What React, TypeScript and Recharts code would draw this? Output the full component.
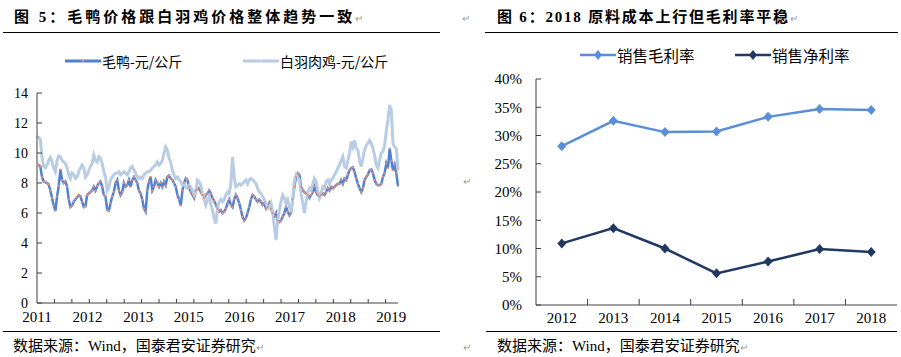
import { LineChart, Line, XAxis, YAxis } from "recharts";

// 毛鸭 / 白羽肉鸡 weekly prices (元/公斤), 2011 - early 2019
const duckPrice = [
  9.2, 9.2, 9.1, 8.4, 8.1, 8.05, 8.0, 7.9, 7.5, 7.0,
  6.5, 6.15, 7.1, 7.8, 8.9, 8.2, 8.0, 8.1, 7.75, 6.9,
  6.4, 6.5, 6.75, 6.9, 7.05, 7.2, 7.1, 6.75, 6.4, 6.45,
  7.2, 7.3, 7.4, 7.5, 7.75, 7.5, 7.8, 8.0, 8.1, 7.75,
  7.2, 7.1, 6.2, 6.15, 6.65, 7.1, 7.4, 8.0, 8.2, 7.5,
  7.2, 7.4, 8.0, 7.75, 7.85, 8.2, 7.75, 8.2, 8.4, 8.2,
  8.0, 7.5, 7.3, 6.9, 6.3, 6.1, 7.5, 8.1, 8.4, 7.5,
  7.75, 8.2, 8.0, 7.75, 8.0, 7.75, 8.1, 7.85, 8.4, 8.5,
  8.3, 8.2, 8.0, 7.75, 7.2, 6.9, 6.5, 7.5, 8.0, 8.3,
  8.2, 7.75, 7.4, 7.2, 7.0, 7.5, 7.6, 7.65, 7.4, 7.2,
  7.0, 7.2, 7.3, 7.5, 7.3, 7.0, 6.8, 6.55, 6.3, 6.1,
  6.2, 6.0, 6.1, 6.3, 6.65, 6.9, 6.55, 6.4, 6.9, 7.2,
  7.0, 6.65, 6.2, 5.75, 5.5, 5.65, 6.0, 6.4, 6.9, 7.2,
  7.1, 6.9, 6.75, 6.9, 6.75, 6.55, 6.65, 6.3, 6.4, 6.65,
  6.3, 6.0, 5.75, 6.0, 5.5, 5.4, 5.5, 5.75, 6.0, 6.4,
  6.1, 5.85, 6.0, 6.9, 7.75, 8.4, 8.65, 8.55, 7.75, 7.5,
  7.4, 7.3, 7.2, 7.0, 7.2, 7.4, 7.75, 7.4, 7.2, 7.1,
  7.2, 7.3, 7.2, 7.4, 7.65, 7.5, 7.75, 7.65, 7.75, 7.85,
  7.95, 7.95, 8.2, 7.95, 8.3, 8.2, 8.55, 8.85, 9.0, 9.05,
  8.75, 8.3, 7.95, 7.65, 7.4, 7.65, 8.2, 8.4, 8.55, 8.85,
  8.9, 8.65, 8.2, 7.95, 7.85, 7.85, 7.95, 8.4, 8.65, 9.3,
  9.0, 10.3, 9.5, 8.85, 9.2, 8.65, 7.8,
];

const chickenPrice = [
  11.1, 11.05, 10.9, 9.75, 9.1, 9.0, 9.2, 9.5, 9.7, 9.4,
  9.0, 8.75, 9.5, 9.8, 9.75, 9.5, 9.4, 9.3, 9.0, 8.55,
  8.3, 8.65, 8.55, 8.3, 8.4, 8.75, 9.0, 9.2, 9.0, 8.4,
  8.55, 8.85, 9.1, 9.3, 9.85, 9.5, 9.4, 9.75, 9.65, 9.3,
  8.75, 8.4, 7.5, 7.75, 8.2, 8.4, 8.55, 8.65, 8.65, 8.75,
  8.55, 8.65, 8.75, 8.65, 8.55, 8.75, 9.0, 9.1, 8.85, 8.65,
  8.4, 8.3, 8.4, 8.3, 8.55, 8.65, 8.75, 8.75, 8.85, 9.0,
  9.1, 9.2, 9.4, 9.2, 9.3, 9.5, 10.0, 10.4, 10.2, 9.65,
  9.4, 8.85, 8.55, 8.3, 8.4, 8.2, 8.1, 7.85, 7.95, 7.75,
  7.65, 7.85, 7.75, 7.5, 7.2, 7.4, 8.2, 8.1, 7.85, 7.3,
  6.9, 6.55, 6.9, 7.1, 6.55, 6.2, 5.65, 5.3, 6.3, 6.75,
  6.9, 6.75, 6.9, 7.2, 7.4, 7.3, 7.95, 9.75, 8.4, 7.75,
  7.85, 7.95, 7.85, 7.95, 8.1, 8.2, 7.95, 8.2, 8.3, 8.2,
  8.1, 7.95, 7.65, 7.4, 7.3, 7.1, 6.9, 6.65, 6.3, 6.4,
  6.65, 6.1, 5.1, 4.2, 5.5, 6.2, 6.75, 7.2, 7.0, 6.65,
  6.9, 6.4, 6.2, 6.9, 8.2, 8.55, 8.4, 8.2, 7.3, 6.65,
  6.0, 6.75, 7.4, 7.65, 7.5, 7.95, 8.3, 8.1, 7.5, 7.0,
  7.3, 7.75, 7.65, 8.1, 8.2, 7.95, 8.2, 8.3, 8.55, 8.75,
  9.0, 9.2, 9.5, 9.75, 9.1, 9.0, 9.5, 10.0, 10.75, 10.4,
  10.85, 10.3, 10.2, 9.5, 9.1, 9.65, 10.2, 10.5, 10.65, 10.85,
  10.65, 10.3, 9.85, 9.2, 9.0, 9.5, 10.0, 10.1, 10.5, 11.5,
  12.2, 13.2, 12.85, 10.65, 10.4, 10.3, 8.85,
];

const priceYearLabels = ["2011", "2012", "2013", "2015", "2016", "2017", "2018", "2019"];
const priceYTicks = [0, 2, 4, 6, 8, 10, 12, 14];

const years = ["2012", "2013", "2014", "2015", "2016", "2017", "2018"];
const grossMargin = [28.1, 32.6, 30.6, 30.7, 33.3, 34.7, 34.5];
const netMargin = [10.9, 13.6, 10.0, 5.6, 7.7, 9.9, 9.4];
const marginYTicks = [0, 5, 10, 15, 20, 25, 30, 35, 40];

const priceData = duckPrice.map((duck, i) => ({ i, duck, chicken: chickenPrice[i] }));
const marginData = years.map((year, i) => ({ year, gross: grossMargin[i], net: netMargin[i] }));

const SERIF = '"Liberation Serif", "Noto Sans CJK SC", serif';
const AXIS = "#404040";
const DUCK = "#4F82D4";
const CHICKEN = "#B8CCE4";
const GROSS = "#5A8ED8";
const NET = "#1F3864";

// excel-ish axis: tick marks every ~10.4 points, labels every ~30.3
const LAST = duckPrice.length - 1;
const MINOR_STEP = 10.43;
const LABEL_STEP = 30.28;
const minorTicks = Array.from({ length: 20 }, (_, k) => (k + 1) * MINOR_STEP);
const labelTicks = priceYearLabels.map((_, k) => k * LABEL_STEP);
const labelAt = new Map(labelTicks.map((v, k) => [v, priceYearLabels[k]]));
const priceXTicks = [...labelTicks, ...minorTicks].sort((a, b) => a - b);

const MARGIN_PLOT_W = 361;
const BAND = MARGIN_PLOT_W / years.length;

function PriceXTick({ x, y, payload }: any) {
  const label = labelAt.get(payload.value);
  if (label === undefined) {
    return <line x1={x} x2={x} y1={y} y2={y - 4} stroke={AXIS} />;
  }
  return (
    <text x={x} y={y + 19} textAnchor="middle" fontSize={15} fontFamily={SERIF} fill="#000">
      {label}
    </text>
  );
}

function YearTick({ x, y, payload, index }: any) {
  return (
    <g>
      {index > 0 && <line x1={x - BAND / 2} x2={x - BAND / 2} y1={y} y2={y - 6} stroke={AXIS} />}
      <text x={x} y={y + 18} textAnchor="middle" fontSize={15} fontFamily={SERIF} fill="#000">
        {payload.value}
      </text>
    </g>
  );
}

const duckDot = (p: any) => <circle key={p.index} cx={p.cx} cy={p.cy} r={1.1} fill="#E4907C" />;

const diamond = (color: string) => (p: any) => (
  <polygon
    key={p.index}
    points={`${p.cx},${p.cy - 5} ${p.cx + 4.5},${p.cy} ${p.cx},${p.cy + 5} ${p.cx - 4.5},${p.cy}`}
    fill={color}
  />
);

const ret = { color: "#9a9a9a", fontSize: 10, fontWeight: "normal" as const };

function Rule({ left, top, width }: { left: number; top: number; width: number }) {
  return <div style={{ position: "absolute", left, top, width, height: 1, background: "#000" }} />;
}

function LegendItem({ left, top, color, label, marker }: any) {
  return (
    <div style={{ position: "absolute", left, top, display: "flex", alignItems: "center", whiteSpace: "nowrap" }}>
      <svg width={36} height={12}>
        <line x1={0} x2={36} y1={6} y2={6} stroke={color} strokeWidth={marker === "diamond" ? 2.5 : 3} />
        {marker === "diamond" ? (
          <polygon points="18,1 22,6 18,11 14,6" fill={color} />
        ) : (
          <circle cx={18} cy={6} r={1.2} fill={marker} />
        )}
      </svg>
      <span style={{ marginLeft: 1 }}>{label}</span>
    </div>
  );
}

export default function App() {
  const titleStyle = {
    position: "absolute" as const,
    top: 7,
    fontFamily: SERIF,
    fontWeight: "bold" as const,
    fontSize: 15,
    letterSpacing: 3,
    lineHeight: "20px",
    whiteSpace: "nowrap" as const,
  };
  const sourceStyle = {
    position: "absolute" as const,
    top: 336,
    fontFamily: SERIF,
    fontSize: 15,
    lineHeight: "20px",
    whiteSpace: "nowrap" as const,
  };
  const legendFont = { fontFamily: '"Noto Sans CJK SC", sans-serif', fontSize: 14, color: "#000" };

  return (
    <div style={{ position: "absolute", left: 0, top: 0, width: 901, height: 357, background: "#fff", overflow: "hidden" }}>
      {/* left panel */}
      <div style={{ ...titleStyle, left: 14 }}>
        图 5：毛鸭价格跟白羽鸡价格整体趋势一致<span style={ret}>↵</span>
      </div>
      <Rule left={3} top={32} width={437} />
      <div style={legendFont}>
        <LegendItem left={65} top={51} color={DUCK} marker="#E4907C" label="毛鸭-元/公斤" />
        <LegendItem left={243} top={51} color={CHICKEN} marker="#c9d2dd" label="白羽肉鸡-元/公斤" />
      </div>
      <div style={{ position: "absolute", left: 0, top: 0 }}>
        <LineChart width={450} height={357} data={priceData} margin={{ top: 93, right: 52, bottom: 34, left: 7 }}>
          <XAxis
            dataKey="i"
            type="number"
            domain={[0, LAST]}
            ticks={priceXTicks}
            interval={0}
            tick={<PriceXTick />}
            tickLine={false}
            tickSize={0}
            tickMargin={0}
            height={20}
            stroke={AXIS}
          />
          <YAxis
            domain={[0, 14]}
            ticks={priceYTicks}
            interval={0}
            width={30}
            tickSize={-5}
            tickMargin={14}
            stroke={AXIS}
            tick={{ fill: "#000", fontSize: 14, fontFamily: SERIF }}
          />
          <Line dataKey="duck" stroke={DUCK} strokeWidth={2.5} dot={duckDot} isAnimationActive={false} />
          <Line dataKey="chicken" stroke={CHICKEN} strokeWidth={3} dot={false} isAnimationActive={false} />
        </LineChart>
      </div>
      <Rule left={3} top={331} width={437} />
      <div style={{ ...sourceStyle, left: 13 }}>
        数据来源：Wind，国泰君安证券研究<span style={ret}>↵</span>
      </div>

      {/* right panel */}
      <div style={{ ...titleStyle, left: 462, letterSpacing: 0 }}>
        <span style={ret}>↵</span>
      </div>
      <div style={{ ...titleStyle, left: 497, letterSpacing: 1.8 }}>
        图 6：2018 原料成本上行但毛利率平稳<span style={ret}>↵</span>
      </div>
      <Rule left={485} top={32} width={413} />
      <div style={{ ...legendFont, fontSize: 15.5 }}>
        <LegendItem left={580} top={44} color={GROSS} marker="diamond" label="销售毛利率" />
        <LegendItem left={735} top={44} color={NET} marker="diamond" label="销售净利率" />
      </div>
      <div style={{ position: "absolute", left: 463, top: 176, ...ret }}>↵</div>
      <div style={{ position: "absolute", left: 450, top: 0 }}>
        <LineChart width={451} height={357} data={marginData} margin={{ top: 79, right: 4, bottom: 27, left: 36 }}>
          <XAxis
            dataKey="year"
            tick={<YearTick />}
            tickLine={false}
            tickSize={0}
            tickMargin={0}
            interval={0}
            height={25}
            padding={{ left: BAND / 2, right: BAND / 2 }}
            stroke={AXIS}
          />
          <YAxis
            domain={[0, 40]}
            ticks={marginYTicks}
            interval={0}
            width={50}
            tickSize={-5}
            tickMargin={19}
            stroke={AXIS}
            tickFormatter={(v: number) => `${v}%`}
            tick={{ fill: "#000", fontSize: 15, fontFamily: SERIF }}
          />
          <Line dataKey="gross" stroke={GROSS} strokeWidth={2.5} dot={diamond(GROSS)} isAnimationActive={false} />
          <Line dataKey="net" stroke={NET} strokeWidth={2.5} dot={diamond(NET)} isAnimationActive={false} />
        </LineChart>
      </div>
      <Rule left={486} top={331} width={411} />
      <div style={{ ...sourceStyle, left: 463 }}>
        <span style={ret}>↵</span>
      </div>
      <div style={{ ...sourceStyle, left: 497 }}>
        数据来源：Wind，国泰君安证券研究<span style={ret}>↵</span>
      </div>
    </div>
  );
}
